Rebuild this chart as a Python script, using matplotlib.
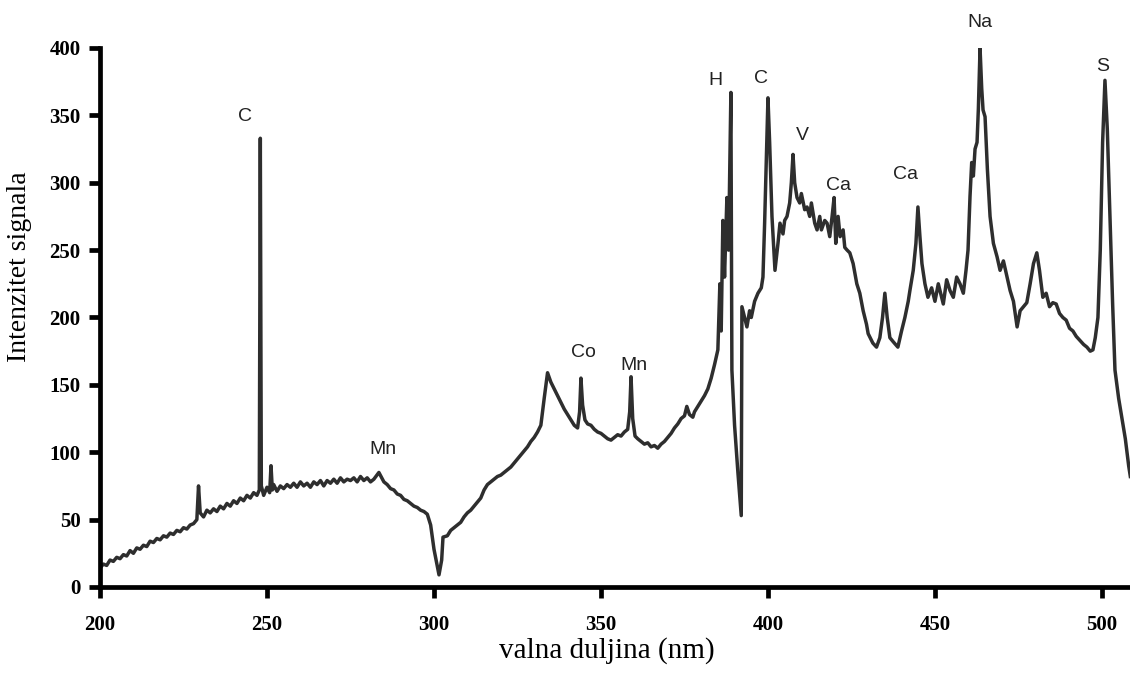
import matplotlib
matplotlib.use("Agg")
import matplotlib.pyplot as plt

# spectrum (wavelength in nm, signal intensity)
wavelength = [
    200, 201, 202, 203, 204, 205, 206, 207, 208, 209, 210, 211, 212, 213, 214,
    215, 216, 217, 218, 219, 220, 221, 222, 223, 224, 225, 226, 227, 228, 229,
    229.5, 230, 231, 232, 233, 234, 235, 236, 237, 238, 239, 240, 241, 242, 243,
    244, 245, 246, 247, 247.7, 248.0, 248.3, 249, 250, 250.8, 251.2, 251.6, 252,
    253, 254, 255, 256, 257, 258, 259, 260, 261, 262, 263, 264, 265, 266, 267,
    268, 269, 270, 271, 272, 273, 274, 275, 276, 277, 278, 279, 280, 281, 282,
    283.5, 285, 286, 287, 288, 289, 290, 291, 292, 293, 294, 295, 296, 297, 298,
    299, 300, 301.5, 302.3, 302.7, 304, 305, 306, 307, 308, 309, 310, 311, 312,
    313, 314, 315, 316, 317, 318, 319, 320, 321, 322, 323, 324, 325, 326, 327,
    328, 329, 330, 331, 332, 333, 334, 335, 336, 337, 338, 339, 340, 341, 342,
    343, 343.6, 344, 344.5, 345.2, 346, 347, 348, 349, 350, 351, 352, 353, 354,
    355, 356, 357, 358, 358.6, 359, 359.5, 360.2, 361, 362, 363, 364, 365, 366,
    367, 368, 369, 370, 371, 372, 373, 374, 375, 375.7, 376.5, 377.5, 378, 379,
    380, 381, 382, 383, 384, 385, 385.6, 386, 386.5, 387, 387.7, 388.2, 388.9,
    389.2, 390, 391, 392, 392.2, 393, 393.7, 394.5, 395, 396, 397, 398, 398.5,
    399, 400, 400.5, 401.2, 402.1, 403, 403.6, 404.5, 405, 405.7, 406.5, 407,
    407.5, 408, 408.7, 409.5, 410, 411, 411.7, 412.5, 413, 414, 414.7, 415.5,
    416, 417, 417.7, 418.5, 419.2, 419.8, 420.3, 421, 421.6, 422.5, 423, 423.7,
    424.5, 425.5, 426.6, 427.5, 428.5, 429.5, 430, 431.4, 432.5, 433.5, 434.3,
    435, 435.7, 436.5, 437.5, 438.9, 440, 441, 442, 442.5, 443.5, 444.3, 444.9,
    445.5, 446.1, 447, 447.9, 449, 450, 451, 451.5, 452.5, 453.5, 454.5, 455.5,
    456.5, 457.5, 458.5, 459.3, 459.9, 460.5, 461, 461.5, 462, 462.6, 463,
    463.5, 464, 464.4, 465, 465.7, 466.5, 467.5, 468.6, 469.5, 470.5, 471.6,
    472.5, 473.5, 474.6, 475.5, 476.5, 477.5, 478.5, 479.5, 480.5, 481.3, 482.3,
    483.3, 484.3, 485.3, 486.3, 487.3, 488.3, 489.3, 490.3, 491.3, 492.3, 493.4,
    494.5, 495.5, 496.5, 497.3, 498, 498.8, 499.5, 500.2, 500.9, 501.6, 502.4,
    503.2, 503.9, 505, 506, 507, 508, 508.5,
]
intensity = [
    14, 17, 16, 20, 19, 22, 21, 24, 23, 27, 25, 29, 28, 31, 30,
    34, 33, 36, 35, 38, 37, 40, 39, 42, 41, 44, 43, 46, 47, 50,
    75, 55, 52, 57, 55, 58, 56, 60, 58, 62, 60, 64, 62, 66, 64,
    68, 66, 70, 68, 72, 333, 75, 68, 74, 70, 90, 72, 76,
    71, 75, 73, 76, 74, 77, 74, 78, 75, 77, 74, 78, 76, 79, 75,
    79, 77, 80, 77, 81, 78, 80, 79, 81, 78, 82, 79, 81, 78, 80,
    85, 78, 76, 73, 72, 69, 68, 65, 64, 62, 60, 59, 57, 56, 54,
    46, 28, 9, 20, 37, 38, 42, 44, 46, 48, 52, 55, 57, 60,
    63, 66, 72, 76, 78, 80, 82, 83, 85, 87, 89, 92, 95, 98, 101,
    104, 108, 111, 115, 120, 140, 159, 152, 147, 142, 137, 132, 128, 124, 120,
    118, 130, 155, 135, 124, 121, 120, 117, 115, 114, 112, 110, 109, 111,
    113, 112, 115, 117, 130, 156, 125, 112, 110, 108, 106, 107, 104, 105,
    103, 106, 108, 111, 114, 118, 121, 125, 127, 134, 128, 126, 130, 134,
    138, 142, 147, 155, 165, 176, 225, 190, 272, 230, 289, 250, 367,
    161, 120, 85, 53, 208, 200, 193, 205, 200, 212, 218, 222, 230,
    270, 363, 330, 275, 235, 255, 270, 262, 272, 275, 285, 300,
    321, 300, 289, 285, 292, 280, 282, 275, 285, 270, 265, 275,
    265, 272, 270, 260, 275, 289, 255, 275, 260, 265, 252, 250,
    248, 240, 225, 218, 205, 195, 188, 181, 178, 185, 200,
    218, 200, 185, 182, 178, 190, 200, 212, 220, 235, 255, 282,
    260, 240, 225, 215, 222, 212, 225, 220, 210, 228, 220, 215,
    230, 225, 218, 235, 250, 290, 315, 305, 325, 330, 355,
    400, 370, 354, 349, 310, 275, 255, 245, 235, 242, 230,
    220, 212, 193, 205, 208, 211, 225, 240, 248, 235, 215,
    218, 208, 211, 210, 203, 200, 198, 192, 190, 186, 183,
    180, 178, 175, 176, 185, 200, 250, 330, 376, 340, 275,
    210, 161, 140, 125, 110, 90, 82,
]

# element labels placed above their peaks
peak_labels = ["C", "Mn", "Co", "Mn", "H", "C", "V", "Ca", "Ca", "Na", "S"]
label_x = [243.4, 284.7, 344.6, 360.0, 384.4, 397.9, 410.2, 421.0, 441.3, 463.5, 500.2]
label_y = [349, 102, 174, 164, 376, 377, 335, 298, 306, 419, 386]

fig = plt.figure(figsize=(11.3, 6.73), dpi=100)
ax = fig.add_axes([0.0885, 0.1278, 0.9115, 0.8009])

ax.plot(wavelength, intensity, color="#2e2e2e", linewidth=2.5)

for txt, x, y in zip(peak_labels, label_x, label_y):
    ax.text(x, y, txt, ha="center", va="center", fontsize=14,
            family="Liberation Sans", color="#222222", clip_on=False)

ax.set_xlim(200, 508.4)
ax.set_ylim(0, 400)
ax.set_xticks([200, 250, 300, 350, 400, 450, 500])
ax.set_yticks([0, 50, 100, 150, 200, 250, 300, 350, 400])

for side in ["top", "right"]:
    ax.spines[side].set_visible(False)
for side in ["left", "bottom"]:
    ax.spines[side].set_linewidth(3.4)
    ax.spines[side].set_color("black")

ax.tick_params(axis="x", length=8, width=3.4, pad=12, direction="out")
ax.tick_params(axis="y", length=8, width=3.4, pad=6, direction="out")
for lab in ax.get_xticklabels() + ax.get_yticklabels():
    lab.set_family("Liberation Serif")
    lab.set_fontweight("bold")
    lab.set_fontsize(15)

ax.set_xlabel("valna duljina (nm)", family="Liberation Serif", fontsize=21)
ax.set_ylabel("Intenzitet signala", family="Liberation Serif", fontsize=20)
ax.xaxis.set_label_coords(0.492, -0.117)
ax.yaxis.set_label_coords(-0.078, 0.594)
ax.xaxis.label.set_va("center")
ax.yaxis.label.set_va("center")

fig.savefig("out.png", dpi=100)
